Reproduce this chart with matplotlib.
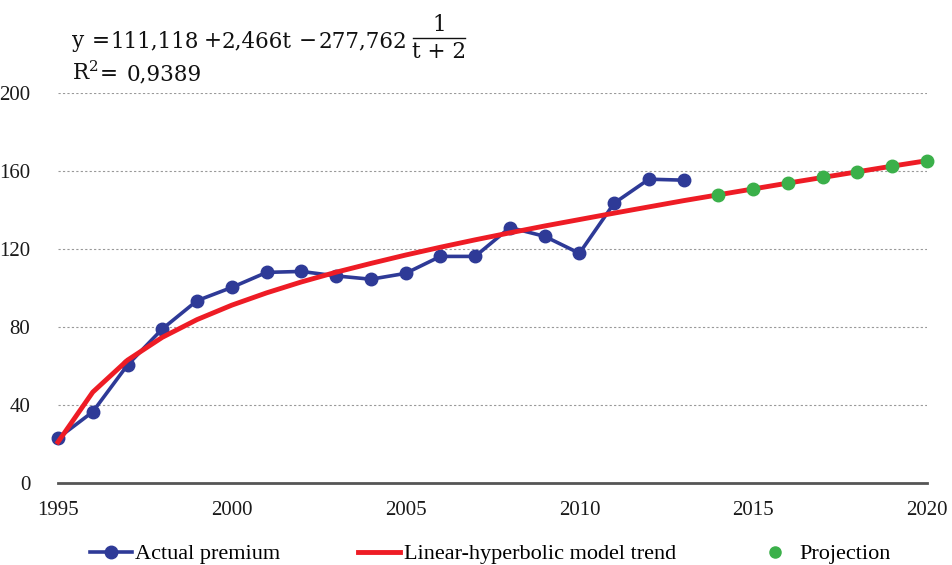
import matplotlib
matplotlib.use("Agg")
import matplotlib.pyplot as plt
from matplotlib.lines import Line2D

plt.rcParams['font.family'] = ['Liberation Serif', 'DejaVu Serif']
plt.rcParams['mathtext.fontset'] = 'dejavuserif'

years_actual = list(range(1995, 2014))
actual_premium = [23.0, 36.5, 60.5, 79.0, 93.5, 100.3, 108.0, 108.5, 106.2, 104.5,
                  107.5, 116.2, 116.2, 131.0, 126.5, 117.8, 143.5, 155.8, 155.3]

years_trend = list(range(1995, 2021))
trend_values = [21.0, 46.6, 63.0, 74.7, 83.8, 91.2, 97.5, 103.1, 108.1, 112.6,
                116.9, 120.9, 124.7, 128.3, 131.8, 135.1, 138.4, 141.6, 144.8,
                147.8, 150.8, 153.8, 156.7, 159.6, 162.5, 165.3]

years_proj = list(range(2014, 2021))
projection = [147.8, 150.8, 153.8, 156.7, 159.6, 162.5, 165.3]

BLUE = '#2E3A97'
RED = '#EE1C25'
GREEN = '#3BB04A'

W, H = 953, 565
fig = plt.figure(figsize=(9.53, 5.65), dpi=100)
ax = fig.add_axes([58/W, 1-483/H, (927-58)/W, (483-93)/H])

ax.plot(years_actual, actual_premium, color=BLUE, lw=2.6, marker='o', ms=9, zorder=3, clip_on=False)
ax.plot(years_trend, trend_values, color=RED, lw=3.5, zorder=4, clip_on=False)
ax.plot(years_proj, projection, linestyle='none', marker='o', ms=9, color=GREEN, zorder=5, clip_on=False)

ax.set_xlim(1995, 2020)
ax.set_ylim(0, 200)
ax.set_xticks([1995, 2000, 2005, 2010, 2015, 2020])
ax.set_yticks([0, 40, 80, 120, 160, 200])
ax.tick_params(length=0, labelsize=15, colors='#1a1a1a')
ax.tick_params(axis='x', pad=13)
ax.tick_params(axis='y', pad=20)
for g in [40, 80, 120, 160, 200]:
    ax.axhline(g, color='#999999', lw=0.8, ls=(0, (2, 2)), zorder=1)
for s in ['left', 'right', 'top']:
    ax.spines[s].set_visible(False)
ax.spines['bottom'].set_color('#555555')
ax.spines['bottom'].set_linewidth(2)
for lab in ax.get_xticklabels() + ax.get_yticklabels():
    lab.set_clip_on(False)

# Equation (built from pieces to mimic the display-style fraction)
EQF = dict(family='DejaVu Serif', fontsize=15.5, va='baseline', color='#111111')
def t(x, y, s, ha='left'):
    fig.text(x/W, 1-y/H, s, ha=ha, **EQF)
t(72, 47, 'y')
t(92, 47, '=')
t(110, 47, '111,118')
t(204, 47, '+')
t(222, 47, '2,466t')
t(299, 47, '\u2212')
t(319, 47, '277,762')
t(439, 31, '1', ha='center')
fig.add_artist(Line2D([413/W, 465/W], [1-38/H, 1-38/H], color='#111111', lw=1.0))
t(439, 58, 't + 2', ha='center')
t(72, 80, r'R$^{2}$')
t(100, 80, '=')
t(127, 80, '0,9389')

handles = [
    Line2D([], [], color=BLUE, lw=2.6, marker='o', ms=9),
    Line2D([], [], color=RED, lw=3.5),
    Line2D([], [], color=GREEN, marker='o', ms=8, linestyle='none'),
]
labels = ['Actual premium', 'Linear-hyperbolic model trend', 'Projection']
fig.legend(handles, labels, loc='center', bbox_to_anchor=(490/W, 1-554/H), ncol=3,
           frameon=False, fontsize=16, handlelength=1.9, handletextpad=0.15,
           columnspacing=3.5, borderpad=0)

fig.savefig('out.png', dpi=100)
